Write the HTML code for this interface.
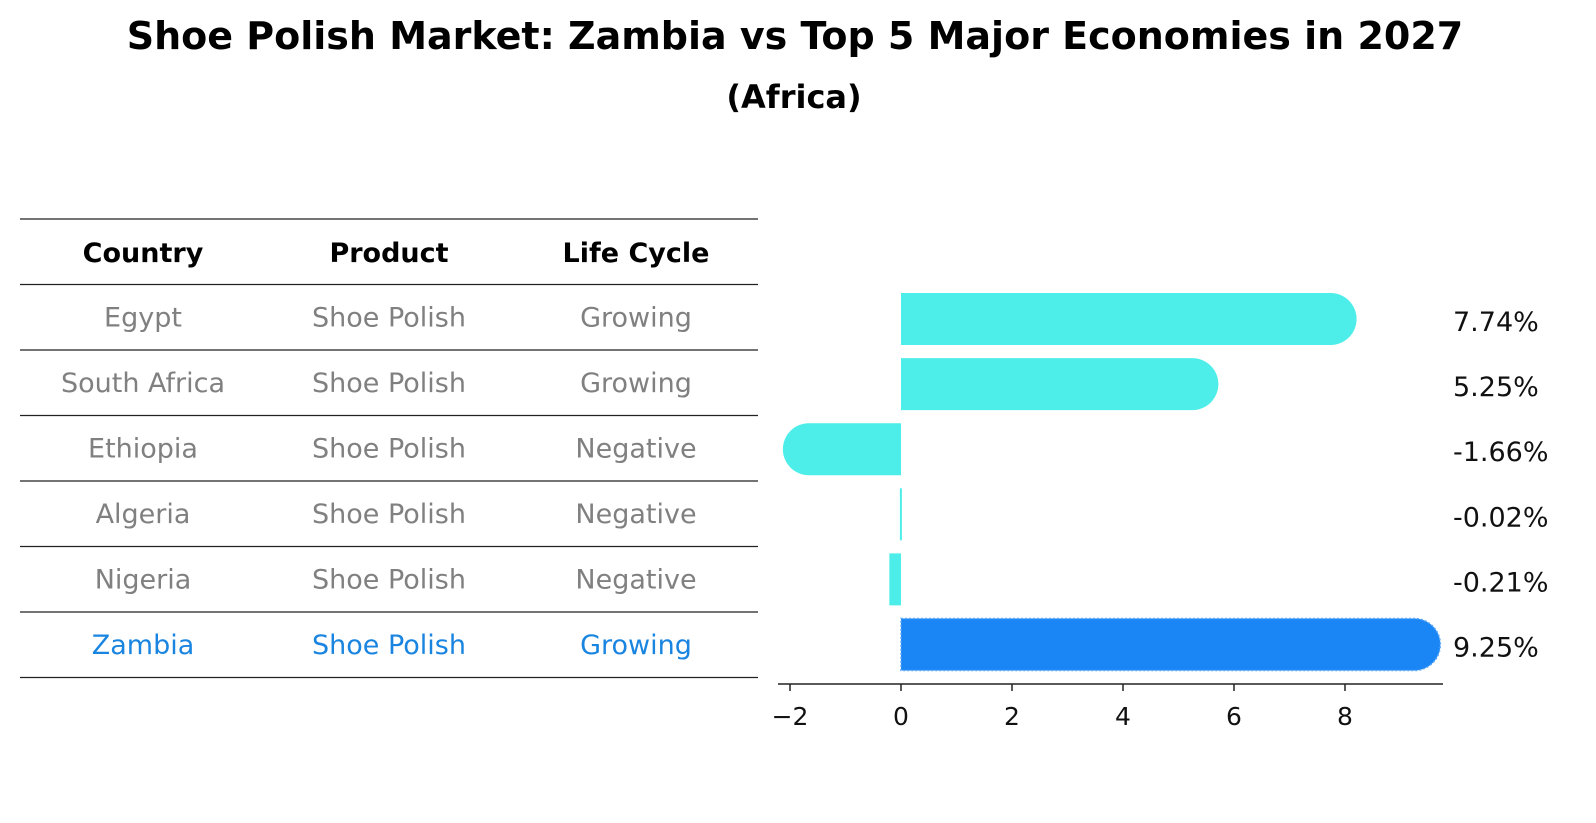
<!DOCTYPE html>
<html><head><meta charset="utf-8">
<style>
body{margin:0;background:#fff;font-family:"Liberation Sans","DejaVu Sans",sans-serif;}
#wrap{position:relative;width:1596px;height:823px;overflow:hidden;}
</style></head>
<body>
<div id="wrap">
<svg id="svg" width="1596" height="823" xmlns="http://www.w3.org/2000/svg">
<text x="795" y="49" text-anchor="middle" font-size="38" font-weight="bold" font-family="DejaVu Sans, Liberation Sans, sans-serif">Shoe Polish Market: Zambia vs Top 5 Major Economies in 2027</text>
<text x="794" y="108" text-anchor="middle" font-size="32" font-weight="bold" font-family="DejaVu Sans, Liberation Sans, sans-serif">(Africa)</text>
<g id="table"></g>
<g id="bars"></g>
</svg>
</div>
<script>
const countries=["Egypt","South Africa","Ethiopia","Algeria","Nigeria","Zambia"];
const products=["Shoe Polish","Shoe Polish","Shoe Polish","Shoe Polish","Shoe Polish","Shoe Polish"];
const lifeCycles=["Growing","Growing","Negative","Negative","Negative","Growing"];
const growth=[7.74,5.25,-1.66,-0.02,-0.21,9.25];
const xTicks=[-2,0,2,4,6,8];

const NS="http://www.w3.org/2000/svg";
const tbl=document.getElementById('table');
const bars=document.getElementById('bars');
function mk(tag,attrs,parent){const e=document.createElementNS(NS,tag);for(const k in attrs)e.setAttribute(k,attrs[k]);parent.appendChild(e);return e;}
const font="DejaVu Sans, Liberation Sans, sans-serif";
// table
const rowTop=219,rowH=65.5,colX=[143,389,636];
for(let i=0;i<=countries.length+1;i++){
  const l=mk('line',{x1:20,x2:758,y1:rowTop+i*rowH,y2:rowTop+i*rowH,stroke:'#222','stroke-width':1.3},tbl);
  
  
}
["Country","Product","Life Cycle"].forEach((h,j)=>{
  const t=mk('text',{x:colX[j],y:rowTop+rowH/2+10,'text-anchor':'middle','font-size':27,'font-weight':'bold','font-family':font},tbl);
  t.textContent=h;
  
  
});
countries.forEach((c,i)=>{
  const col=i===countries.length-1?'#1a85e0':'#808080';
  [c,products[i],lifeCycles[i]].forEach((v,j)=>{
    const t=mk('text',{x:colX[j],y:rowTop+(i+1.5)*rowH+9,'text-anchor':'middle','font-size':27,fill:col,'font-family':font},tbl);
    t.textContent=v;
    
    
  });
});
// bar chart
const x0=901,ppu=55.5;
const xs=v=>x0+v*ppu;
const yc=i=>319+i*65.1;
const bh=52,r=26;
growth.forEach((v,i)=>{
  const last=i===growth.length-1;
  const col=last?'#1a85f5':'#4deee9';
  const a=Math.min(xs(0),xs(v)),b=Math.max(xs(0),xs(v));
  const y=yc(i)-bh/2;
  let d;
  if(Math.abs(v)>1){
    if(v>0) d=`M${a},${y}H${b}A${r},${r} 0 0 1 ${b},${y+bh}H${a}Z`;
    else d=`M${b},${y}H${a}A${r},${r} 0 0 0 ${a},${y+bh}H${b}Z`;
  } else d=`M${a},${y}H${Math.max(b,a+2)}V${y+bh}H${a}Z`;
  const attrs={d:d,fill:col};
  if(last){attrs.stroke='#5aa8f8';attrs['stroke-width']=1.5;attrs['stroke-dasharray']='2,2';}
  const p=mk('path',attrs,bars);
  
  
  const t=mk('text',{x:1453,y:yc(i)+12,'font-size':27,'font-family':font,fill:'#111'},bars);
  t.textContent=v.toFixed(2)+'%';
  
  
});
const ax=mk('line',{x1:778,x2:1443,y1:684,y2:684,stroke:'#222','stroke-width':1.5},bars);


xTicks.forEach(tv=>{
  const tk=mk('line',{x1:xs(tv),x2:xs(tv),y1:684,y2:691,stroke:'#222','stroke-width':1.5},bars);
  
  
  const t=mk('text',{x:xs(tv),y:725,'text-anchor':'middle','font-size':25,'font-family':font,fill:'#111'},bars);
  t.textContent=tv<0?'\u2212'+Math.abs(tv):String(tv);
  
  
});
</script>
</body></html>
